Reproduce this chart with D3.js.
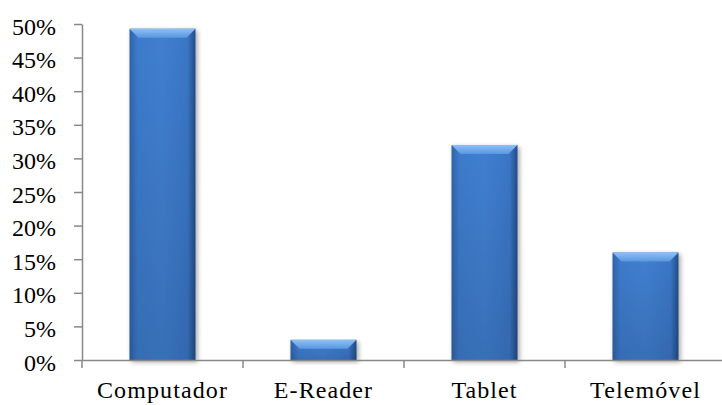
<!DOCTYPE html>
<html>
<head>
<meta charset="utf-8">
<script src="https://cdn.jsdelivr.net/npm/d3@7"></script>
<style>
  body { margin: 0; background: #fff; }
</style>
</head>
<body>
<div id="chart"></div>
<script>
const categories = ['Computador', 'E-Reader', 'Tablet', 'Telemóvel'];
const values = [0.493, 0.03, 0.32, 0.16];
const yTicks = [0, 0.05, 0.10, 0.15, 0.20, 0.25, 0.30, 0.35, 0.40, 0.45, 0.50];

const margin = { top: 24, right: -4, bottom: 45, left: 82 };
const width = 722 - margin.left - margin.right;
const height = 405 - margin.top - margin.bottom;
const serif = 'Liberation Serif';

const svg = d3.select('#chart').append('svg')
  .attr('width', 722)
  .attr('height', 405);

const defs = svg.append('defs');

const grad = defs.append('linearGradient')
  .attr('id', 'barGrad')
  .attr('x1', '0').attr('x2', '1').attr('y1', '0').attr('y2', '0');
grad.append('stop').attr('offset', '0%').attr('stop-color', '#2f63a8');
grad.append('stop').attr('offset', '12%').attr('stop-color', '#3d7bcc');
grad.append('stop').attr('offset', '50%').attr('stop-color', '#407fd0');
grad.append('stop').attr('offset', '88%').attr('stop-color', '#3a76c6');
grad.append('stop').attr('offset', '100%').attr('stop-color', '#224c86');

const vgrad = defs.append('linearGradient')
  .attr('id', 'barShade')
  .attr('x1', '0').attr('x2', '0').attr('y1', '0').attr('y2', '1');
vgrad.append('stop').attr('offset', '0%').attr('stop-color', '#000').attr('stop-opacity', 0);
vgrad.append('stop').attr('offset', '100%').attr('stop-color', '#000').attr('stop-opacity', 0.12);

const topGrad = defs.append('linearGradient')
  .attr('id', 'topGrad')
  .attr('x1', '0').attr('x2', '0').attr('y1', '0').attr('y2', '1');
topGrad.append('stop').attr('offset', '0%').attr('stop-color', '#8ec0f5');
topGrad.append('stop').attr('offset', '100%').attr('stop-color', '#5a97e0');

const shadow = defs.append('filter')
  .attr('id', 'shadow')
  .attr('x', '-20%').attr('y', '-10%').attr('width', '150%').attr('height', '130%');
shadow.append('feGaussianBlur').attr('in', 'SourceAlpha').attr('stdDeviation', 2.5);
shadow.append('feOffset').attr('dx', 2).attr('dy', 2).attr('result', 'blur');
shadow.append('feComponentTransfer').append('feFuncA').attr('type', 'linear').attr('slope', 0.35);
const merge = shadow.append('feMerge');
merge.append('feMergeNode');
merge.append('feMergeNode').attr('in', 'SourceGraphic');

const g = svg.append('g')
  .attr('transform', `translate(${margin.left},${margin.top})`);

const x = d3.scaleBand()
  .domain(categories)
  .range([0, width])
  .paddingInner(0.59)
  .paddingOuter(0.295);

const y = d3.scaleLinear()
  .domain([0, 0.5])
  .range([height, 0]);

// bars
const bars = g.selectAll('.bar')
  .data(categories.map((c, i) => ({ key: c, value: values[i] })))
  .enter()
  .append('g')
  .attr('class', 'bar')
  .attr('filter', 'url(#shadow)');

bars.append('rect')
  .attr('x', d => x(d.key))
  .attr('y', d => y(d.value))
  .attr('width', x.bandwidth())
  .attr('height', d => height - y(d.value))
  .attr('fill', 'url(#barGrad)');

bars.append('rect')
  .attr('x', d => x(d.key))
  .attr('y', d => y(d.value))
  .attr('width', x.bandwidth())
  .attr('height', d => height - y(d.value))
  .attr('fill', 'url(#barShade)');

// top bevel
const bevel = 9;
bars.append('path')
  .attr('d', d => {
    const x0 = x(d.key);
    const x1 = x0 + x.bandwidth();
    const y0 = y(d.value);
    const b = Math.min(bevel, (height - y(d.value)) * 0.8);
    return `M${x0},${y0}L${x1},${y0}L${x1 - b},${y0 + b}L${x0 + b},${y0 + b}Z`;
  })
  .attr('fill', 'url(#topGrad)');

// y axis
const yAxis = g.append('g')
  .call(d3.axisLeft(y).tickValues(yTicks).tickFormat(d3.format('.0%')).tickSize(8).tickSizeOuter(0))
  .attr('font-family', serif)
  .attr('font-size', 24);
yAxis.select('.domain').attr('stroke', '#888').attr('stroke-width', 1.5);
yAxis.selectAll('.tick line').attr('stroke', '#888').attr('stroke-width', 1.5);
yAxis.selectAll('.tick text')
  .attr('x', -26)
  .attr('dy', '0.42em')
  .attr('fill', '#000');

// x axis
const xAxis = g.append('g')
  .attr('transform', `translate(0,${height})`)
  .call(d3.axisBottom(x).tickSize(0).tickSizeOuter(0))
  .attr('font-family', serif)
  .attr('font-size', 24);
xAxis.select('.domain').attr('stroke', '#888').attr('stroke-width', 1.5);
xAxis.selectAll('.tick text')
  .attr('y', 21)
  .attr('letter-spacing', 1.1)
  .attr('fill', '#000');

// category separator ticks
const step = x.step();
const seps = d3.range(0, categories.length + 1).map(i => i * step);
xAxis.selectAll('.sep')
  .data(seps)
  .enter()
  .append('line')
  .attr('class', 'sep')
  .attr('x1', d => d).attr('x2', d => d)
  .attr('y1', 0).attr('y2', 8)
  .attr('stroke', '#888')
  .attr('stroke-width', 1.5);
</script>
</body>
</html>
